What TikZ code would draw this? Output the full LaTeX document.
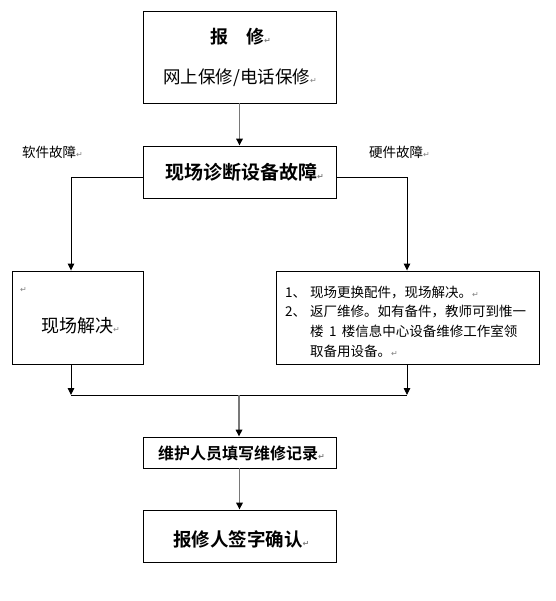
\documentclass[tikz,border=0pt]{standalone}
\usepackage{fontspec}
\setmainfont{Noto Sans CJK SC}[BoldFont={Noto Sans CJK SC Bold}]
\newfontfamily\dejavu{DejaVu Sans}
\usetikzlibrary{arrows.meta}
\newcommand\parmark{{\dejavu\fontsize{8}{8}\selectfont\color{gray}↵}}
\definecolor{linegray}{RGB}{120,120,120}
\tikzset{
  boxshape/.style={draw=black, line width=0.9pt, inner sep=0pt},
  txt/.style={inner sep=0pt, anchor=west},
  conn/.style={line width=0.9pt, draw=black},
  gconn/.style={line width=1.6pt, draw=linegray},
  tip/.style={-{Triangle[width=6.5pt,length=7pt,black]}},
}
\begin{document}
\begin{tikzpicture}[x=1pt,y=-1pt]
\useasboundingbox (0,0) rectangle (555,601);
% boxes
\node[boxshape, minimum width=193pt, minimum height=92pt] (b1) at (239.5,57) {};
\node[boxshape, minimum width=193pt, minimum height=52pt] (b2) at (239.5,172) {};
\node[boxshape, minimum width=131pt, minimum height=93pt] (bl) at (77.5,317.5) {};
\node[boxshape, minimum width=263pt, minimum height=93pt] (br) at (407.5,317.5) {};
\node[boxshape, minimum width=193pt, minimum height=31pt] (b4) at (239.5,452.5) {};
\node[boxshape, minimum width=193pt, minimum height=52pt] (b5) at (239.5,536) {};
% texts
\node[txt, font=\fontsize{18}{20}\selectfont\bfseries] (t1) at (210,37) {报\hspace{1em}修\parmark};
\node[txt, font=\fontsize{17.5}{20}\selectfont] (t2) at (163,78) {网上保修/电话保修\parmark};
\node[txt, font=\fontsize{19}{20}\selectfont\bfseries] (t3) at (165,172) {现场诊断设备故障\parmark};
\node[txt, font=\fontsize{13.5}{15}\selectfont] (lsoft) at (22,152) {软件故障\parmark};
\node[txt, font=\fontsize{13.5}{15}\selectfont] (lhard) at (369,152) {硬件故障\parmark};
\node[txt] (tl0) at (20,290) {\parmark};
\node[txt, font=\fontsize{18}{20}\selectfont] (tl) at (41,326) {现场解决\parmark};
\node[txt, font=\fontsize{13.5}{15}\selectfont] (n1) at (285,293) {1、};
\node[txt, font=\fontsize{13.5}{15}\selectfont] (r1) at (310,293) {现场更换配件，现场解决。\parmark};
\node[txt, font=\fontsize{13.5}{15}\selectfont] (n2) at (285,312) {2、};
\node[txt, font=\fontsize{13.5}{15}\selectfont] (r2) at (310,312) {返厂维修。如有备件，教师可到惟一};
\node[txt, font=\fontsize{13.5}{15}\selectfont] (r3) at (310,331) {楼\hspace{0.4em}1\hspace{0.4em}楼信息中心设备维修工作室领};
\node[txt, font=\fontsize{13.5}{15}\selectfont] (r4) at (310,351) {取备用设备。\parmark};
\node[txt, font=\fontsize{16}{18}\selectfont\bfseries] (t4) at (158,453) {维护人员填写维修记录\parmark};
\node[txt, font=\fontsize{18.5}{20}\selectfont\bfseries] (t5) at (173,539) {报修人签字确认\parmark};
% connector points
\coordinate (lt) at (71,177);
\coordinate (rt) at (407,177);
\coordinate (lj) at (71,395);
\coordinate (rj) at (407,395);
\coordinate (j) at (239,395);
% connectors
\draw[gconn, tip] (b1.south) -- (b2.north);
\draw[conn, tip] (b2.west |- lt) -- (lt) -- (lt |- bl.north);
\draw[conn, tip] (b2.east |- rt) -- (rt) -- (rt |- br.north);
\draw[conn, tip] (lj |- bl.south) -- (lj);
\draw[conn, tip] (rj |- br.south) -- (rj);
\draw[conn] (lj) -- (rj);
\draw[gconn, tip] (j) -- (j |- b4.north);
\draw[gconn, tip] (b4.south) -- (b5.north);
\end{tikzpicture}
\end{document}
